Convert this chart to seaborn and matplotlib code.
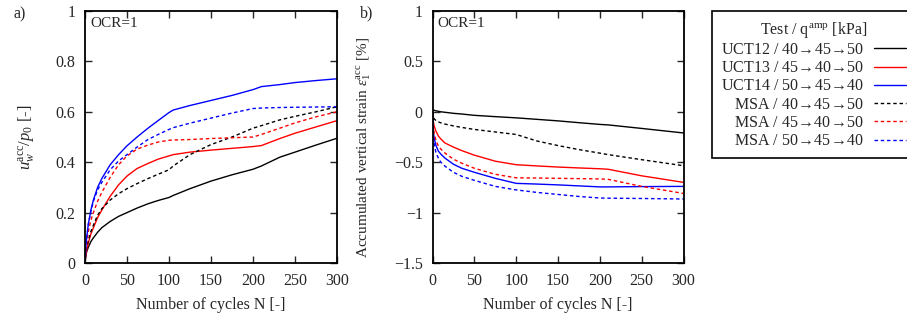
import pandas as pd
import seaborn as sns
import matplotlib
matplotlib.use("Agg")
import matplotlib.pyplot as plt

# cycles (panel a) and normalised pore pressure u_w^acc / p_0
n_a = [0, 1, 2, 4, 7, 10, 15, 20, 30, 40, 50, 62, 75, 87, 100, 105, 125, 150, 175, 200, 210, 232, 250, 275, 300]
uct12_a = [0, 0.03, 0.045, 0.063, 0.085, 0.10, 0.122, 0.14, 0.165, 0.185, 0.20, 0.218, 0.235, 0.248, 0.26,
           0.268, 0.295, 0.325, 0.35, 0.372, 0.385, 0.42, 0.44, 0.468, 0.495]
uct13_a = [0, 0.03, 0.05, 0.08, 0.115, 0.14, 0.18, 0.21, 0.265, 0.31, 0.345, 0.375, 0.395, 0.412, 0.425,
           0.43, 0.44, 0.448, 0.455, 0.462, 0.466, 0.494, 0.515, 0.54, 0.565]
uct14_a = [0, 0.06, 0.10, 0.155, 0.21, 0.25, 0.30, 0.335, 0.39, 0.43, 0.465, 0.50, 0.535, 0.565, 0.597,
           0.607, 0.625, 0.645, 0.665, 0.688, 0.70, 0.708, 0.716, 0.724, 0.731]
msa1_a = [0, 0.04, 0.06, 0.09, 0.125, 0.15, 0.19, 0.215, 0.25, 0.275, 0.295, 0.315, 0.335, 0.352, 0.37,
          0.385, 0.43, 0.47, 0.50, 0.535, 0.545, 0.568, 0.582, 0.60, 0.62]
msa2_a = [0, 0.05, 0.08, 0.125, 0.17, 0.20, 0.245, 0.28, 0.34, 0.39, 0.425, 0.452, 0.468, 0.48, 0.487,
          0.488, 0.49, 0.494, 0.497, 0.50, 0.51, 0.535, 0.556, 0.58, 0.60]
msa3_a = [0, 0.06, 0.10, 0.155, 0.205, 0.245, 0.29, 0.32, 0.37, 0.405, 0.43, 0.46, 0.49, 0.51, 0.53,
          0.537, 0.555, 0.575, 0.595, 0.613, 0.615, 0.617, 0.618, 0.619, 0.62]

# cycles (panel b) and accumulated vertical strain [%]
n_b = [0, 1, 2, 4, 7, 10, 15, 25, 35, 50, 75, 100, 125, 150, 175, 200, 210, 250, 300]
uct12_b = [0.02, 0.018, 0.015, 0.01, 0.005, 0.0, -0.005, -0.015, -0.022, -0.035, -0.048, -0.06,
           -0.075, -0.09, -0.108, -0.125, -0.13, -0.165, -0.21]
uct13_b = [0, -0.10, -0.14, -0.19, -0.24, -0.27, -0.31, -0.35, -0.385, -0.43, -0.49, -0.525,
           -0.537, -0.548, -0.557, -0.565, -0.57, -0.635, -0.70]
uct14_b = [0, -0.20, -0.26, -0.33, -0.39, -0.42, -0.46, -0.52, -0.56, -0.60, -0.66, -0.71,
           -0.717, -0.725, -0.735, -0.745, -0.745, -0.742, -0.74]
msa1_b = [0, -0.05, -0.07, -0.085, -0.10, -0.11, -0.122, -0.14, -0.155, -0.175, -0.20, -0.225,
          -0.29, -0.335, -0.375, -0.41, -0.425, -0.475, -0.535]
msa2_b = [0, -0.15, -0.21, -0.28, -0.34, -0.37, -0.41, -0.47, -0.51, -0.56, -0.62, -0.655,
          -0.657, -0.66, -0.663, -0.666, -0.67, -0.74, -0.81]
msa3_b = [0, -0.25, -0.32, -0.40, -0.46, -0.50, -0.54, -0.60, -0.64, -0.68, -0.74, -0.775,
          -0.80, -0.82, -0.84, -0.855, -0.857, -0.86, -0.865]

arr = r"$\!\rightarrow\!$"
labels = ["UCT12 / 40" + arr + "45" + arr + "50", "UCT13 / 45" + arr + "40" + arr + "50",
          "UCT14 / 50" + arr + "45" + arr + "40", "MSA / 40" + arr + "45" + arr + "50",
          "MSA / 45" + arr + "40" + arr + "50", "MSA / 50" + arr + "45" + arr + "40"]
colors = ["black", "red", "blue", "black", "red", "blue"]
styles = ["-", "-", "-", (0, (2.5, 2)), (0, (2.5, 2)), (0, (2.5, 2))]

sns.set_style("ticks")
plt.rcParams["font.family"] = ["Liberation Serif", "DejaVu Serif"]
plt.rcParams["mathtext.fontset"] = "custom"
plt.rcParams["mathtext.rm"] = "Liberation Serif"
plt.rcParams["mathtext.it"] = "Liberation Serif:italic"
plt.rcParams["font.size"] = 11

fig = plt.figure(figsize=(9.07, 3.2), dpi=100)
ax1 = fig.add_axes([85 / 907, 57 / 320, 252 / 907, 252 / 320])
ax2 = fig.add_axes([432.5 / 907, 57 / 320, 251 / 907, 252 / 320])

ys_a = [uct12_a, uct13_a, uct14_a, msa1_a, msa2_a, msa3_a]
ys_b = [uct12_b, uct13_b, uct14_b, msa1_b, msa2_b, msa3_b]
for y, lab, c, ls in zip(ys_a, labels, colors, styles):
    sns.lineplot(x=n_a, y=y, ax=ax1, color=c, linestyle=ls, linewidth=1.0, label=lab, legend=False)
for y, lab, c, ls in zip(ys_b, labels, colors, styles):
    sns.lineplot(x=n_b, y=y, ax=ax2, color=c, linestyle=ls, linewidth=1.0, legend=False)

for ax in (ax1, ax2):
    ax.set_xlim(0, 300)
    ax.set_xticks([0, 50, 100, 150, 200, 250, 300])
    ax.tick_params(direction="in", top=True, right=True, length=5, width=1, labelsize=11.5)
    ax.tick_params(axis="x", pad=7)
    ax.tick_params(axis="y", pad=7)
    for sp in ax.spines.values():
        sp.set_linewidth(1.3)
        sp.set_color("black")
    ax.set_xlabel("Number of cycles N [-]", fontsize=11.5)
    ax.xaxis.set_label_coords(0.5, -0.135)
    ax.text(0.02, 0.975, "OCR=1", transform=ax.transAxes, ha="left", va="top", fontsize=11)

ax1.set_ylim(0, 1)
ax1.set_yticks([0, 0.2, 0.4, 0.6, 0.8, 1])
ax1.set_yticklabels(["0", "0.2", "0.4", "0.6", "0.8", "1"])
ax1.set_ylabel(r"$u_w^{\rm acc}/p_0$ [-]", fontsize=12)
ax1.yaxis.set_label_coords(-0.195, 0.5)

ax2.set_ylim(-1.5, 1)
ax2.set_yticks([-1.5, -1, -0.5, 0, 0.5, 1])
ax2.set_yticklabels(["\u22121.5", "\u22121", "\u22120.5", "0", "0.5", "1"])
ax2.set_ylabel(r"Accumulated vertical strain $\varepsilon_1^{\rm acc}$ [%]", fontsize=11)
ax2.yaxis.set_label_coords(-0.235, 0.46)

fig.text(13 / 907, 1 - 14 / 320, "a)", ha="left", va="center", fontsize=11.5)
fig.text(360 / 907, 1 - 13 / 320, "b)", ha="left", va="center", fontsize=11.5)

handles, labs = ax1.get_legend_handles_labels()
leg = fig.legend(handles, labs, loc="upper left", bbox_to_anchor=(712 / 907, 1 - 11 / 320),
                 markerfirst=False, frameon=True, fancybox=False, edgecolor="black",
                 framealpha=1, borderaxespad=0, borderpad=0.55, labelspacing=0.14,
                 handlelength=2.0, handletextpad=0.6,
                 title=r"Test / q$^{\rm amp}$ [kPa]", fontsize=11.5, title_fontsize=11.5)
leg.get_frame().set_linewidth(1.2)

fig.savefig("out.png", dpi=100)
